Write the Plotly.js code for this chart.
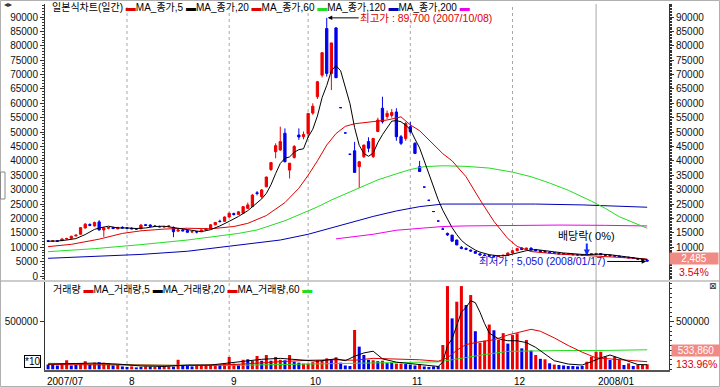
<!DOCTYPE html>
<html><head><meta charset="utf-8">
<script src="https://cdn.plot.ly/plotly-3.0.1.min.js"></script>
<style>html,body{margin:0;padding:0;background:#fff;}#chart{width:720px;height:387px;}</style>
</head><body><div id="chart"></div>
<script>
// ---------- data ----------
const tradingDays = {
  "2007/07": [6,9,10,11,12,13,16,18,19,20,23,24,25,26,27,30,31],
  "2007/08": [1,2,3,6,7,8,9,10,13,14,16,17,20,21,22,23,24,27,28,29,30,31],
  "2007/09": [3,4,5,6,7,10,11,12,13,14,17,18,19,20,21,27,28],
  "2007/10": [1,2,4,5,8,9,10,11,12,15,16,17,18,19,22,23,24,25,26,29,30,31],
  "2007/11": [1,2,5,6,7,8,9,12,13,14,15,16,19,20,21,22,23,26,27,28,29,30],
  "2007/12": [3,4,5,6,7,10,11,12,13,14,17,18,20,21,24,26,27,28],
  "2008/01": [2,3,4,7,8,9,10,11,14,15,16,17]
};
const monthStarts = ["2007/07/06","2007/08/01","2007/09/03","2007/10/01","2007/11/01","2007/12/03","2008/01/02"];
const monthLabels = ["2007/07","8","9","10","11","12","2008/01"];
const priceTicksLeft = [0,5000,10000,15000,20000,25000,30000,35000,40000,45000,50000,55000,60000,65000,70000,75000,80000,85000,90000];
const priceTicksRight = [10000,15000,20000,25000,30000,35000,40000,45000,50000,55000,60000,65000,70000,75000,80000,85000,90000];
const volTicks = [500000];

const open = [12200,12100,12200,12300,12900,13100,13900,14500,16700,17900,17400,18800,16000,16600,16800,16400,16900,
16700,16600,16400,16400,17800,17700,17400,17200,17000,17200,16900,15600,16000,15800,15300,15400,15400,16000,16500,17800,19000,19000,
20500,21700,21400,21800,23500,24100,28900,27600,31000,37000,43200,43800,49600,36800,41200,49000,48400,
49500,56600,62300,69800,86000,70400,86200,58500,49700,42300,43500,38000,41500,46700,41500,50200,58300,55400,55800,57000,48400,47800,
51900,46100,38000,30900,26300,22400,19100,16300,14800,14200,12500,10000,9600,9000,8500,7700,7300,7100,6900,6800,7000,7200,
8000,8800,9700,9200,9700,9100,8800,8500,8300,8100,7900,7700,7600,7500,7400,7300,7200,7500,
7600,7800,7400,7200,7000,6900,6700,6500,6300,6100,5800,5500];
const high = [12500,12400,12500,13000,13300,14000,14400,17000,18400,18300,18900,19400,17000,17000,17100,17000,17300,
17000,16900,16700,18000,18100,18000,17700,17500,17400,17500,17200,16400,16400,16100,15700,15600,16200,16700,18000,18800,19600,20700,
22000,22000,22500,24300,25500,28500,29500,30200,34500,39600,46100,51900,51300,39300,45500,51300,50200,
56500,60000,67800,77600,89700,81000,86500,58500,49700,42300,46600,40000,45600,48200,48000,55000,62300,57500,58000,58300,49000,53500,
53500,46500,40000,30900,26300,22400,19100,16900,15100,14300,12600,10400,9900,9200,8700,7900,7600,7400,7200,7200,7400,8200,
9000,9800,10000,9900,9900,9400,9000,8800,8600,8300,8100,7900,7800,7700,7600,7500,7700,7900,
8000,7900,7600,7400,7200,7100,6900,6700,6500,6300,6000,5800];
const low = [11900,11900,12000,12200,12700,13000,13800,14400,16500,17300,17200,15800,13600,16200,16300,16200,16500,
16300,16200,16100,16300,17400,17200,17000,16900,16800,16900,13500,15300,15500,15000,15000,14800,15300,15900,16400,17600,18700,18900,
20300,21000,21200,21600,23300,24000,28000,27000,30800,36500,40900,43500,39500,33900,40800,47300,47500,
48000,56000,61500,69000,69300,64600,68800,58500,49700,42300,36000,30600,41000,43000,41000,50000,53000,54500,55000,47000,45500,47000,
49500,42600,36200,30900,26300,22400,19100,16250,13900,11900,10700,9300,9000,8400,7800,7100,6900,6800,6600,6600,6800,7100,
7800,8600,9000,9000,9000,8600,8300,8100,7900,7700,7500,7400,7300,7200,7100,7100,7100,7300,
7400,7300,7000,6900,6800,6600,6400,6200,6000,5700,5300,5050];
const close = [12100,12200,12100,12900,13000,13800,14200,16800,18000,17600,18600,16000,16700,16800,16500,16900,16700,
16600,16400,16300,17700,17600,17300,17200,17100,17200,17400,15400,16000,15700,15200,15400,15300,16000,16500,17800,18600,18900,20500,
21800,21400,22300,24100,24700,28100,28700,29900,34400,39400,45300,46700,39700,39200,45000,48300,49200,
56500,59000,67500,77600,70400,81000,68900,58500,49700,42300,36000,39700,45500,44400,47800,54200,53600,56500,56800,48400,46100,53000,
50100,42600,36300,30900,26300,22400,19100,16300,14300,12100,10800,9600,9300,8700,7900,7300,7100,6900,6800,7000,7200,8000,
8800,9500,9200,9700,9100,8800,8500,8300,8100,7900,7700,7600,7500,7400,7300,7200,7500,7700,
7800,7400,7200,7000,6900,6700,6500,6300,6100,5800,5500,5200];

// price moving averages (day index -> value)
const ma5Day = [0,2,4,6,8,9,10,11,12,13,14,15,17,19,21,23,25,27,29,31,33,35,37,39,41,43,45,46,47,48,49,50,51,52,53,54,55,56,57,58,59,60,61,62,63,64,65,66,67,68,69,70,71,72,73,74,75,76,77,78,79,80,81,82,83,84,85,86,87,88,89,90,91,92,93,94,95,97,99,101,103,105,107,109,111,113,115,117,119,121,123,125,127,129];
const ma5Val = [12100,12150,12500,13000,14400,15300,16200,16700,17100,17300,17000,16700,16700,16500,16700,17200,17300,16800,16300,15700,15400,16100,17400,19000,20700,22700,25300,26800,28700,31700,35600,39100,40900,41400,43000,43900,44200,48300,51000,55600,62000,66200,71300,73100,71300,65700,59900,51600,45400,42600,41600,42700,46300,49100,51300,53800,54000,53600,52400,50900,47600,44500,40000,35500,31000,26500,22800,19700,16800,14400,12400,11000,9900,9000,8300,7800,7400,7000,7200,8000,8800,9200,8900,8400,8000,7700,7500,7500,7600,7400,7000,6600,6200,5700];
const ma20Day = [0,5,11,16,20,25,30,35,40,43,47,51,54,56,58,60,62,64,66,70,73,76,78,80,83,85,87,90,93,96,99,101,104,110,115,120,125,129];
const ma20Val = [10200,11000,12800,14800,15700,16300,16600,16400,17200,18300,21000,25500,30500,35000,40000,45500,49500,52000,52900,53500,54200,55300,52500,50500,45500,42500,40000,34500,26500,19000,13000,10300,8500,7600,7200,6700,6200,5900];
const ma60Day = [0,10,20,30,41,45,51,55,58,61,64,67,71,75,78,81,85,90,95,100,104,108,112,117,120,123,126,129];
const ma60Val = [8450,9500,10900,12500,14800,16000,19200,22000,24000,26400,28500,30600,33400,35500,37000,38000,38300,38100,37500,36100,34500,32300,29800,26000,23500,20600,18500,16600];
const ma120Day = [0,10,20,30,40,45,50,56,60,65,70,75,80,85,95,105,115,122,129];
const ma120Val = [6150,6700,7500,8600,10600,11500,12500,14500,16300,18600,20700,22600,24100,25000,25100,25000,24700,24300,23900];
const ma200Day = [62,65,70,75,80,85,90,100,110,120,129];
const ma200Val = [12900,13500,14500,15900,16600,17200,17400,17600,17700,17600,17400];

// volume
const volume = [50000,45000,40000,55000,95000,40000,45000,60000,85000,50000,70000,75000,70000,65000,40000,45000,30000,
25000,30000,20000,25000,30000,28000,25000,30000,35000,30000,28000,100000,40000,35000,30000,35000,40000,45000,50000,55000,45000,60000,
130000,60000,50000,100000,105000,90000,140000,90000,150000,90000,130000,100000,95000,150000,80000,70000,60000,
60000,75000,98000,90000,115000,105000,126000,70000,40000,35000,413000,238000,150000,100000,95000,85000,90000,65000,70000,60000,60000,55000,
50000,40000,55000,30000,25000,30000,35000,255000,874000,535000,710000,874000,675000,780000,400000,280000,300000,470000,410000,310000,380000,270000,
360000,378000,220000,308000,196000,150000,110000,105000,63000,50000,45000,40000,35000,35000,30000,35000,80000,133000,
185000,185000,133000,98000,133000,98000,45000,63000,35000,45000,45000,52000];
const volDir = [-1,-1,-1,1,1,-1,-1,1,1,-1,1,-1,1,1,-1,1,-1,
-1,1,-1,-1,1,-1,1,-1,1,1,-1,1,-1,-1,-1,1,1,1,1,1,-1,1,
1,1,-1,1,-1,1,1,-1,1,-1,1,1,-1,1,-1,-1,1,
1,1,1,1,1,-1,1,-1,-1,-1,1,-1,-1,-1,1,-1,1,-1,-1,1,1,-1,
-1,-1,1,-1,-1,-1,-1,1,1,-1,1,1,-1,1,-1,1,1,1,-1,1,1,-1,
1,1,-1,1,-1,1,-1,1,-1,1,-1,-1,-1,-1,-1,-1,1,1,
1,1,1,-1,1,1,-1,1,-1,1,1,1];
const vma5Day = [0,5,10,15,20,25,30,35,38,42,46,50,54,58,62,64,66,68,70,72,75,78,81,84,85,86,87,88,89,90,91,92,93,94,95,97,99,101,103,105,107,109,112,115,117,119,121,123,125,127,129];
const vma5Val = [55000,60000,65000,55000,35000,30000,45000,45000,60000,85000,105000,115000,100000,85000,110000,90000,137000,172000,190000,110000,75000,60000,40000,30000,75000,250000,320000,450000,600000,650000,720000,700000,600000,480000,380000,320000,300000,300000,280000,230000,160000,90000,55000,45000,80000,120000,150000,115000,80000,50000,48000];
const vma20Day = [0,10,20,30,40,50,56,62,66,70,75,80,84,86,88,90,93,96,99,102,104,106,109,112,115,118,121,125,129];
const vma20Val = [50000,50000,45000,40000,50000,80000,95000,100000,95000,115000,110000,100000,85000,120000,200000,260000,290000,310000,360000,400000,420000,400000,330000,250000,180000,120000,110000,95000,80000];
const vma60Day = [0,15,25,40,55,65,75,84,87,90,94,99,105,110,120,125,129];
const vma60Val = [63000,50000,42000,42000,55000,68000,75000,78000,100000,125000,155000,188000,195000,197000,198000,205000,205000];

const highInfo = {day: "2007/10/08", price: 89700, text: "최고가 : 89,700 (2007/10/08)"};
const lowInfo = {day: "2008/01/17", price: 5050, text: "최저가 : 5,050 (2008/01/17)"};
const divInfo = {day: "2007/12/27", price: 7100, text: "배당락( 0%)"};
const lastPriceTag = "2,485", lastPricePct = "3.54%";
const lastVolTag = "533,860", lastVolPct = "133.96%";

// ---------- build ----------
const dates = [];
for (const m in tradingDays) for (const d of tradingDays[m]) dates.push(m + "/" + String(d).padStart(2, "0"));
const pick = idx => idx.map(i => dates[i]);

const RED = '#ee0000', BLUE = '#0000ee';
const FONT = 'Liberation Sans, Arial, Noto Sans CJK KR, sans-serif';

function line(xIdx, y, color, yaxis) {
  return {type:'scatter', mode:'lines', x: pick(xIdx), y: y, xaxis:'x', yaxis: yaxis,
    line:{color: color, width: 1}, hoverinfo:'skip', showlegend:false};
}

const traces = [
  line(ma200Day, ma200Val, '#ee00ee', 'y'),
  line(ma120Day, ma120Val, '#0000b4', 'y'),
  line(ma60Day, ma60Val, '#22dd22', 'y'),
  line(ma20Day, ma20Val, '#e00000', 'y'),
  {type:'candlestick', x: dates, open: open, high: high, low: low, close: close, xaxis:'x', yaxis:'y',
    increasing:{line:{color:RED, width:1}, fillcolor:RED},
    decreasing:{line:{color:BLUE, width:1}, fillcolor:BLUE},
    whiskerwidth:0, hoverinfo:'skip', showlegend:false},
  line(ma5Day, ma5Val, '#000000', 'y'),
  {type:'bar', x: dates, y: volume, xaxis:'x', yaxis:'y2',
    marker:{color: volDir.map(d => d > 0 ? RED : BLUE), line:{width:0}}, hoverinfo:'skip', showlegend:false},
  line(vma60Day, vma60Val, '#22dd22', 'y2'),
  line(vma20Day, vma20Val, '#e00000', 'y2'),
  line(vma5Day, vma5Val, '#000000', 'y2'),
  {type:'scatter', mode:'lines', x:[dates[0]], y:[0], xaxis:'x', yaxis:'y3', hoverinfo:'skip', showlegend:false},
  {type:'scatter', mode:'lines', x:[dates[0]], y:[0], xaxis:'x', yaxis:'y4', hoverinfo:'skip', showlegend:false}
];

// pixel helpers for paper positions (plot area: x 45..669, y 4..370)
const px = p => (p - 45) / 624;
const py = p => (370 - p) / 366;

const priceRange = [-1390, 94517];
const volRange = [-7350, 917000];
const axisCommon = {showgrid:false, zeroline:false, showline:true, linecolor:'#333', linewidth:1,
  ticks:'outside', ticklen:4, tickcolor:'#333', tickformat:'d', tickfont:{family:FONT, size:10, color:'#111'}, fixedrange:true};

const shapes = [];
monthStarts.slice(1).forEach(d => {
  shapes.push({type:'line', xref:'x', yref:'paper', x0:d, x1:d, y0:0, y1:1, layer:'below',
    line:{color:'#a8a8a8', width:1, dash: d.startsWith('2008') ? 'solid' : '3px,3px'}});
});
shapes.push({type:'line', xref:'paper', yref:'paper', x0:px(0), x1:px(720), y0:py(281), y1:py(281), line:{color:'#999', width:1}});
shapes.push({type:'rect', xref:'paper', yref:'paper', x0:px(0.5), x1:px(719.5), y0:py(386.5), y1:py(0.5), line:{color:'#b0b0b0', width:1}});
shapes.push({type:'rect', xref:'paper', yref:'paper', x0:px(0.5), x1:px(5), y0:py(199), y1:py(172), line:{color:'#888', width:1}});

const mk = c => '<span style="color:' + c + '">▬</span>';
const legendPrice = '일본식차트(일간) ' + mk('#e00000') + 'MA_종가,5 ' + mk('#000') + 'MA_종가,20 ' + mk('#e00000') +
  'MA_종가,60 ' + mk('#22dd22') + 'MA_종가,120 ' + mk('#0000b4') + 'MA_종가,200 ' + mk('#ee00ee');
const legendVol = '거래량 ' + mk('#e00000') + 'MA_거래량,5 ' + mk('#000') + 'MA_거래량,20 ' + mk('#e00000') +
  'MA_거래량,60 ' + mk('#22dd22');

const annotations = [
  {xref:'paper', yref:'paper', x:px(51), y:py(7), xanchor:'left', yanchor:'middle', showarrow:false, borderpad:0,
    text: legendPrice, font:{family:FONT, size:10, color:'#000'}},
  {xref:'paper', yref:'paper', x:px(51), y:py(289), xanchor:'left', yanchor:'middle', showarrow:false,
    text: legendVol, font:{family:FONT, size:10, color:'#000'}},
  {xref:'x', yref:'y', x: highInfo.day, y: highInfo.price, ax: 32, ay: 0, xanchor:'left', yanchor:'middle', borderpad:0,
    text: highInfo.text, showarrow:true, arrowhead:2, arrowsize:0.9, arrowwidth:1, arrowcolor:'#000', standoff:1,
    font:{family:FONT, size:10.5, color:'#e00000'}},
  {xref:'x', yref:'y', x: lowInfo.day, y: lowInfo.price, ax: -40, ay: 0, xanchor:'right', yanchor:'middle',
    text: lowInfo.text, showarrow:true, arrowhead:2, arrowsize:0.9, arrowwidth:1, arrowcolor:'#000', standoff:1,
    font:{family:FONT, size:10.5, color:'#1010cc'}},
  {xref:'x', yref:'y', x: divInfo.day, y: divInfo.price, ax: 0, ay: -12, xanchor:'center', yanchor:'bottom',
    text: divInfo.text, showarrow:true, arrowhead:2, arrowsize:0.6, arrowwidth:2, arrowcolor:'#1030ff', standoff:0,
    font:{family:FONT, size:11, color:'#000'}},
  {xref:'paper', yref:'paper', x:px(694), y:py(258), xanchor:'center', yanchor:'middle', showarrow:false,
    text: lastPriceTag, bgcolor:'#f08a84', width:48, height:11, borderpad:0, font:{family:FONT, size:10, color:'#fff'}},
  {xref:'paper', yref:'paper', x:px(694), y:py(272), xanchor:'center', yanchor:'middle', showarrow:false,
    text: lastPricePct, font:{family:FONT, size:10.5, color:'#e00000'}},
  {xref:'paper', yref:'paper', x:px(696), y:py(350), xanchor:'center', yanchor:'middle', showarrow:false,
    text: lastVolTag, bgcolor:'#f08a84', width:48, height:11, borderpad:0, font:{family:FONT, size:10, color:'#fff'}},
  {xref:'paper', yref:'paper', x:px(696), y:py(364), xanchor:'center', yanchor:'middle', showarrow:false,
    text: lastVolPct, font:{family:FONT, size:10.5, color:'#e00000'}},
  {xref:'paper', yref:'paper', x:px(32), y:py(361), xanchor:'center', yanchor:'middle', showarrow:false,
    text:'*10', bordercolor:'#000', borderwidth:1, borderpad:0, font:{family:FONT, size:10, color:'#000'}},
  {xref:'paper', yref:'paper', x:px(713), y:py(286), xanchor:'center', yanchor:'middle', showarrow:false,
    text:'⊠', font:{family:'DejaVu Sans', size:9, color:'#333'}},
  {xref:'paper', yref:'paper', x:px(8), y:py(4), xanchor:'center', yanchor:'middle', showarrow:false,
    text:'◂▸', font:{family:'DejaVu Sans', size:8, color:'#333'}}
];
monthStarts.forEach((d, k) => {
  annotations.push(k === 0
    ? {xref:'paper', yref:'paper', x:0, y:py(381), xanchor:'left', yanchor:'middle', showarrow:false,
       text: monthLabels[k], font:{family:FONT, size:10, color:'#000'}}
    : {xref:'x', yref:'paper', x:d, y:py(381), xanchor:'left', yanchor:'middle', showarrow:false,
       text: monthLabels[k], font:{family:FONT, size:10, color:'#000'}});
});

const layout = {
  width:720, height:387,
  margin:{l:45, r:51, t:4, b:17, pad:0},
  paper_bgcolor:'#fff', plot_bgcolor:'#fff',
  font:{family:FONT, size:10, color:'#000'},
  showlegend:false, hovermode:false, dragmode:false,
  bargap:0.35,
  xaxis:{type:'category', categoryorder:'array', categoryarray: dates, range:[-0.66, 133.7], anchor:'y2',
    showticklabels:false, ticks:'', showgrid:false,
    zeroline:false, showline:true, linecolor:'#555', linewidth:1.5, rangeslider:{visible:false}, fixedrange:true},
  yaxis: Object.assign({}, axisCommon, {domain:[py(280), 1], range:priceRange, anchor:'x', tickvals: priceTicksLeft,
    minor:{dtick:1000, ticklen:2, ticks:'outside', tickcolor:'#333'}}),
  yaxis3: Object.assign({}, axisCommon, {overlaying:'y', side:'right', range:priceRange, anchor:'x', tickvals: priceTicksRight,
    minor:{dtick:500, ticklen:2, ticks:'outside', tickcolor:'#333'}}),
  yaxis2: Object.assign({}, axisCommon, {domain:[0, py(282)], range:volRange, anchor:'x', tickvals: volTicks}),
  yaxis4: Object.assign({}, axisCommon, {overlaying:'y2', side:'right', range:volRange, anchor:'x', tickvals: volTicks,
    minor:{dtick:50000, ticklen:2, ticks:'outside', tickcolor:'#333'}}),
  shapes: shapes,
  annotations: annotations
};

Plotly.newPlot('chart', traces, layout, {staticPlot:true, displayModeBar:false});
</script>
</body></html>
